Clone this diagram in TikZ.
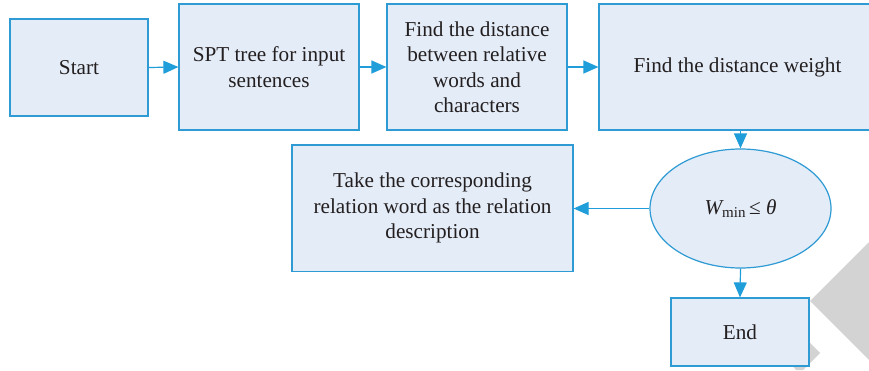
\documentclass[tikz,border=0pt]{standalone}
\usepackage{fontspec}
\setmainfont{Liberation Serif}
\usetikzlibrary{arrows.meta,shapes.geometric}
\definecolor{boxfill}{RGB}{228,236,247}
\definecolor{boxline}{RGB}{46,155,212}
\definecolor{arrcol}{RGB}{32,158,218}
\definecolor{txt}{RGB}{35,31,32}
\definecolor{wm}{RGB}{211,211,211}
\tikzset{
  flowbox/.style={draw=boxline, fill=boxfill, line width=1.2pt, inner sep=0pt,
    align=center, text=txt, font=\fontsize{21.2}{25.5}\selectfont},
  decision/.style={ellipse, draw=boxline, fill=boxfill, line width=1.2pt, inner sep=0pt,
    text=txt, font=\fontsize{21.2}{25.5}\selectfont},
  arr/.style={draw=arrcol, line width=1.2pt, -{Triangle[length=15pt,width=13pt]}, arrcol}
}
\begin{document}
\begin{tikzpicture}[x=1pt,y=-1pt]
\clip (0,0) rectangle (869,370);
\fill[white] (0,0) rectangle (869,370);
% watermark
\fill[wm] (869,242) -- (810,301) -- (869,360) -- cycle;
\fill[wm] (795,328) -- (820,353) -- (803,370) -- (796,370) -- (788,360) -- cycle;
% nodes
\node[flowbox, minimum width=138pt, minimum height=97pt] (start) at (79,67.5) {Start};
\node[flowbox, minimum width=180pt, minimum height=126pt] (spt) at (269,67) {SPT tree for input\\sentences};
\node[flowbox, minimum width=180pt, minimum height=126pt] (find) at (477,67) {Find the distance\\between relative\\words and\\characters};
\node[flowbox, minimum width=277pt, minimum height=126pt] (weight) at (737.5,67) {Find the distance weight};
\node[decision, minimum width=181pt, minimum height=119pt] (ell) at (740.5,208.5)
  {\itshape W\upshape\raisebox{-0.35ex}{\fontsize{15}{15}\selectfont min}\,≤ \itshape θ};
\node[flowbox, minimum width=281pt, minimum height=126.5pt] (take) at (432.5,208.3) {Take the corresponding\\relation word as the relation\\description};
\node[flowbox, minimum width=138pt, minimum height=68pt] (end) at (740,332) {End};
% connectors
\draw[arr] (start.east) -- (spt.west);
\draw[arr] (spt.east) -- (find.west);
\draw[arr] (find.east) -- (find.east -| weight.west);
\draw[arr] (ell.north |- weight.south) -- (ell.north);
\draw[arr] (ell.west) -- (ell.west -| take.east);
\draw[arr] (ell.south) -- (end.north);
\end{tikzpicture}
\end{document}
